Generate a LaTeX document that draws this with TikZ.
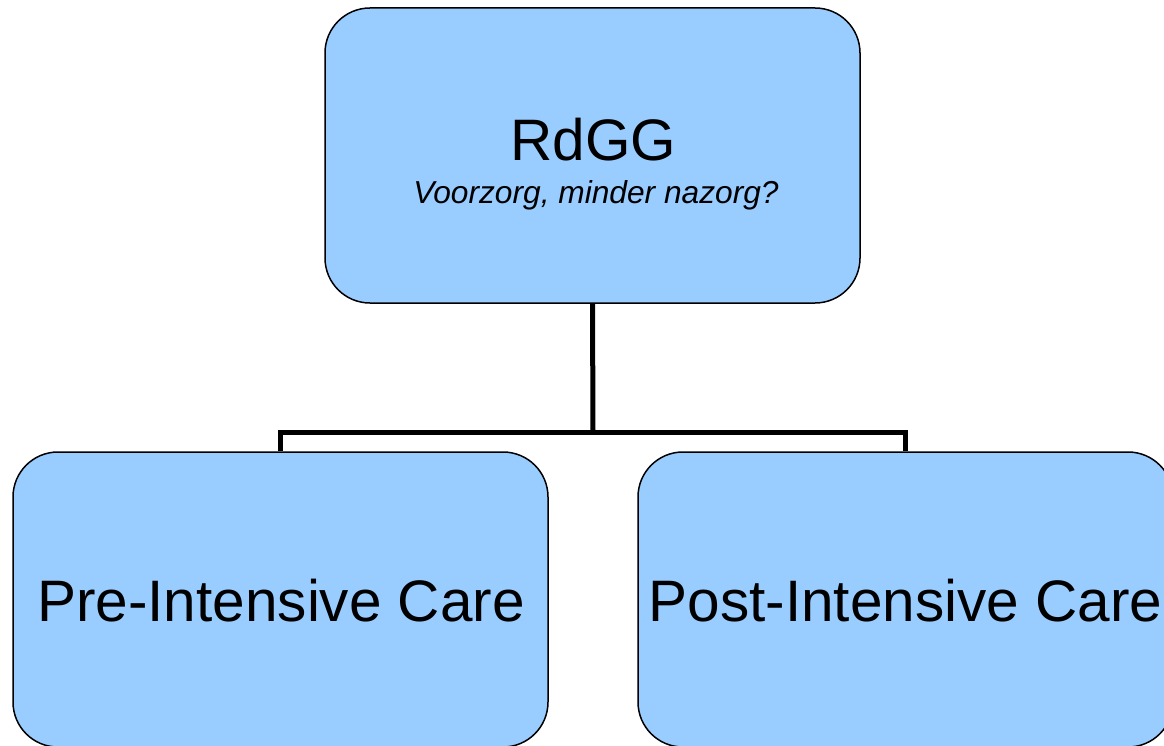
\documentclass[tikz,border=0pt]{standalone}
\usepackage{fontspec}
\setmainfont{Liberation Sans}
\definecolor{boxblue}{HTML}{99CCFF}
\begin{document}
\begin{tikzpicture}[x=1pt,y=-1pt,
  box/.style={draw=black,line width=1.5pt,fill=boxblue,rounded corners=45pt,
    minimum width=535pt,minimum height=295pt,inner sep=0pt},
  conn/.style={draw=black,line width=5pt,line join=miter},
  bigtext/.style={anchor=base,inner sep=0pt,font=\fontsize{58.5}{60}\selectfont},
  smalltext/.style={anchor=base,inner sep=0pt,font=\fontsize{31.7}{34}\selectfont\itshape}]
\useasboundingbox (0,0) rectangle (1164,746);
\clip (0,0) rectangle (1164,746);
\node[box] (top) at (592.5,155.5) {};
\node[box] (left) at (280.5,599.5) {};
\node[box] (right) at (905.5,599.5) {};
\coordinate (bar) at (593,432);
\draw[conn] (top.south) -- (bar);
\draw[conn] (left.north) |- (bar) -| (right.north);
\node[bigtext] (t1) at (593.5,161) {RdGG};
\node[smalltext] (t2) at (596,204) {Voorzorg, minder nazorg?};
\node[bigtext] (t3) at (281,621) {Pre-Intensive Care};
\node[bigtext] (t4) at (905.5,621) {Post-Intensive Care};
\end{tikzpicture}
\end{document}
